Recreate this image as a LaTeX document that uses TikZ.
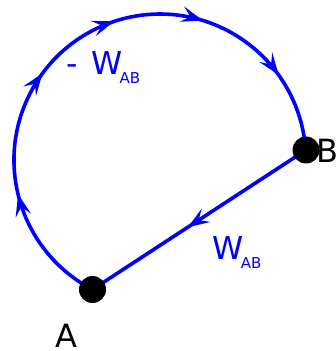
\documentclass[tikz,border=0pt]{standalone}
\usepackage{fontspec}
\setmainfont{DejaVu Sans}
\usetikzlibrary{calc,backgrounds}
\definecolor{pathblue}{RGB}{0,0,255}
\tikzset{
  bluetip/.pic={\fill[pathblue] (1pt,0pt) -- (-21pt,8pt) -- (-12pt,0pt) -- (-21pt,-8pt) -- cycle;},
  dot/.style={circle,fill=black,minimum size=27pt,inner sep=0pt},
  curve/.style={draw=pathblue,line width=3.6pt},
  lab/.style={inner sep=0pt,font=\fontsize{32}{32}\selectfont},
  wlab/.style={inner sep=0pt,text=pathblue,font=\fontsize{31.5}{31.5}\selectfont},
}
\newcommand{\wab}{W\hspace{-3pt}\raisebox{-9pt}{\fontsize{15}{15}\selectfont AB}}
\begin{document}
\begin{tikzpicture}[x=1pt,y=1pt]
\useasboundingbox (0,0) rectangle (335,351);
\coordinate (C) at (160,191);
\node[dot] (A) at (92.5,61.5) {};
\node[dot] (B) at (306,201) {};
\begin{pgfonlayer}{background}
\draw[curve] (A.center) arc[start angle=242.47,end angle=3.92,radius=146];
\draw[curve] (B.center) -- (A.center);
\foreach \t in {194,144,108.7,73.3,36}
  \pic[rotate=\t-90] at ($(C)+(\t:146)$) {bluetip};
\pic[rotate=213.16] at ($(B)!0.55!(A)$) {bluetip};
\end{pgfonlayer}
\node[wlab,anchor=base west] (wtop) at (66,276) {-\hspace{14pt}\wab};
\node[wlab,anchor=base west] (wbot) at (212.5,91) {\wab};
\node[lab,anchor=base] (la) at (66,4) {A};
\node[lab,anchor=base west] (lb) at (316,188.5) {B};
\end{tikzpicture}
\end{document}
